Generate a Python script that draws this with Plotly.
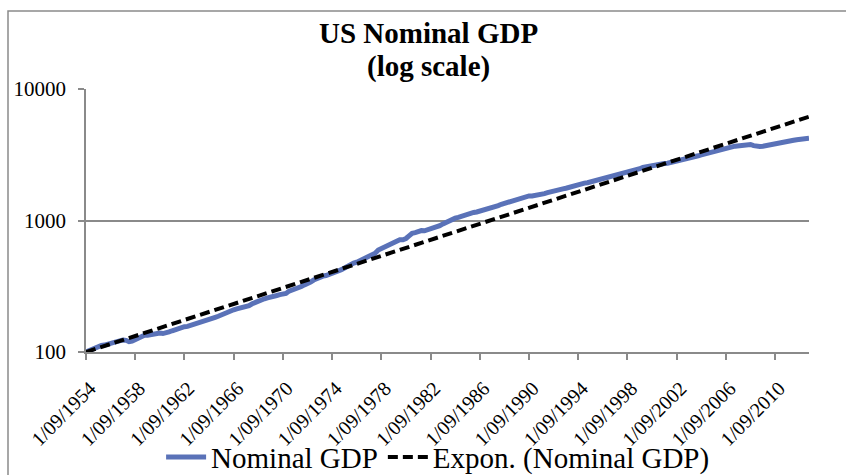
import plotly.graph_objects as go
import pandas as pd

# Quarterly US nominal GDP (billions, SAAR), Sep-1954 quarter to Jun-2013 quarter
gdp = [
    391.6, 400.3,
    413.9, 425.5, 434.4, 439.1,
    442.0, 448.5, 454.4, 464.6,
    472.1, 475.4, 483.9, 480.6,
    469.1, 473.1, 487.6, 500.3,
    511.1, 524.2, 525.2, 529.3,
    543.3, 542.6, 546.1, 541.1,
    545.9, 557.4, 568.2, 581.6,
    595.2, 602.6, 609.6, 613.2,
    622.7, 631.8, 645.0, 654.8,
    671.1, 680.8, 692.8, 698.4,
    719.2, 732.4, 750.2, 773.1,
    797.3, 807.2, 820.8, 834.9,
    846.0, 851.1, 866.6, 883.2,
    911.1, 936.3, 952.3, 970.1,
    995.4, 1011.4, 1032.0, 1040.7,
    1053.5, 1070.1, 1088.5, 1091.5,
    1137.8, 1159.4, 1180.3, 1193.6,
    1233.8, 1270.1, 1293.8, 1332.0,
    1380.7, 1417.6, 1436.8, 1479.1,
    1494.7, 1534.2, 1563.4, 1603.0,
    1619.6, 1656.4, 1713.8, 1765.9,
    1824.5, 1856.9, 1890.5, 1938.4,
    1992.5, 2060.2, 2122.4, 2168.7,
    2208.7, 2336.6, 2398.9, 2482.2,
    2531.6, 2595.9, 2670.4, 2730.7,
    2796.5, 2799.9, 2860.0, 2993.5,
    3131.8, 3167.3, 3261.2, 3283.5,
    3273.8, 3331.3, 3367.1, 3407.8,
    3480.3, 3583.8, 3692.3, 3796.1,
    3912.8, 4015.0, 4087.4, 4147.6,
    4237.0, 4302.3, 4394.6, 4453.1,
    4516.3, 4555.2, 4619.6, 4669.4,
    4736.2, 4821.5, 4900.5, 5022.7,
    5090.6, 5207.7, 5299.5, 5412.7,
    5527.4, 5628.4, 5711.6, 5763.4,
    5890.8, 5974.7, 6029.5, 6023.3,
    6054.9, 6143.6, 6218.4, 6279.3,
    6380.8, 6492.3, 6586.5, 6697.6,
    6748.2, 6829.6, 6904.2, 7032.8,
    7136.3, 7269.8, 7352.3, 7476.7,
    7545.3, 7604.9, 7706.5, 7799.5,
    7893.1, 8061.5, 8159.0, 8287.1,
    8402.1, 8551.9, 8691.8, 8788.3,
    8889.7, 8994.7, 9146.5, 9325.7,
    9447.1, 9557.0, 9712.3, 9926.1,
    10031.0, 10278.3, 10357.4, 10472.3,
    10508.1, 10638.4, 10639.5, 10701.3,
    10834.4, 10934.8, 11037.1, 11103.8,
    11230.1, 11370.7, 11625.1, 11816.8,
    11988.4, 12181.4, 12367.7, 12562.2,
    12813.7, 12974.1, 13205.4, 13381.6,
    13648.9, 13799.8, 13908.5, 14066.4,
    14233.2, 14422.3, 14569.7, 14685.3,
    14668.4, 14813.0, 14843.0, 14549.9,
    14383.9, 14340.4, 14384.1, 14566.5,
    14681.1, 14888.6, 15057.7, 15230.2,
    15238.4, 15460.9, 15587.1, 15785.3,
    15973.9, 16121.9, 16227.9, 16297.3,
    16475.4, 16541.4,
]

# Index (first quarter = 100)
nominal_gdp = [v / gdp[0] * 100 for v in gdp]

# Quarter labels (d/mm/yyyy)
dates = pd.date_range(start="1954-09-01", periods=len(gdp), freq="3MS")
categories = [f"{d.day}/{d.month:02d}/{d.year}" for d in dates]

# Exponential trend line end values
trend_start = 100.0
trend_end = 6170.0

tick_labels = ["1/09/1954", "1/09/1958", "1/09/1962", "1/09/1966", "1/09/1970",
               "1/09/1974", "1/09/1978", "1/09/1982", "1/09/1986", "1/09/1990",
               "1/09/1994", "1/09/1998", "1/09/2002", "1/09/2006", "1/09/2010"]
y_ticks = [100, 1000, 10000]
y_tick_labels = ["100", "1000", "10000"]

FONT = "Liberation Serif"
GRAY = "#8a8a8a"

fig = go.Figure()
fig.add_trace(go.Scatter(
    x=categories, y=nominal_gdp, mode="lines", name="Nominal GDP",
    line=dict(color="#5a72b8", width=5),
))
fig.add_trace(go.Scatter(
    x=[categories[0], categories[-1]], y=[trend_start, trend_end], mode="lines",
    name="Expon. (Nominal GDP)",
    line=dict(color="black", width=4, dash="10px,5px"),
))

fig.update_layout(
    width=846, height=475,
    margin=dict(l=86, r=37, t=89, b=123, autoexpand=False),
    paper_bgcolor="white", plot_bgcolor="white",
    font=dict(family=FONT, color="black"),
    showlegend=True,
    legend=dict(orientation="h", x=0.487, xanchor="center", y=-0.4, yanchor="middle",
                font=dict(size=29, family=FONT, color="black"),
                bgcolor="rgba(0,0,0,0)", itemwidth=40),
    xaxis=dict(
        type="category", range=[0, len(categories) - 1], automargin=False,
        tickmode="array", tickvals=tick_labels, ticktext=tick_labels,
        tickangle=-45, tickfont=dict(size=20, family=FONT, color="black"),
        ticks="outside", ticklen=6, tickcolor=GRAY, tickwidth=1.5,
        ticklabelstandoff=9, ticklabelshift=4,
        showgrid=False, showline=True, linecolor=GRAY, linewidth=1.5,
        zeroline=False,
    ),
    yaxis=dict(
        type="log", range=[2, 4.001], automargin=False,
        tickmode="array", tickvals=y_ticks, ticktext=y_tick_labels,
        tickfont=dict(size=21, family=FONT, color="black"),
        ticks="outside", ticklen=6, tickcolor=GRAY, tickwidth=1.5,
        ticklabelstandoff=8,
        showgrid=True, gridcolor=GRAY, gridwidth=1.5,
        showline=True, linecolor=GRAY, linewidth=1.5, zeroline=False,
    ),
    annotations=[
        dict(text="<b>US Nominal GDP</b>", xref="paper", yref="paper",
             x=0.474, y=1.213, xanchor="center", yanchor="middle", showarrow=False,
             font=dict(size=29, family=FONT, color="black")),
        dict(text="<b>(log scale)</b>", xref="paper", yref="paper",
             x=0.474, y=1.087, xanchor="center", yanchor="middle", showarrow=False,
             font=dict(size=29, family=FONT, color="black")),
    ],
    shapes=[
        dict(type="rect", xref="paper", yref="paper",
             x0=(8 - 86) / 723, x1=(900 - 86) / 723,
             y0=(352 - 520) / 263, y1=(352 - 11) / 263,
             line=dict(color=GRAY, width=1.5), fillcolor="rgba(0,0,0,0)", layer="below"),
    ],
)

fig.write_html("out.html")
